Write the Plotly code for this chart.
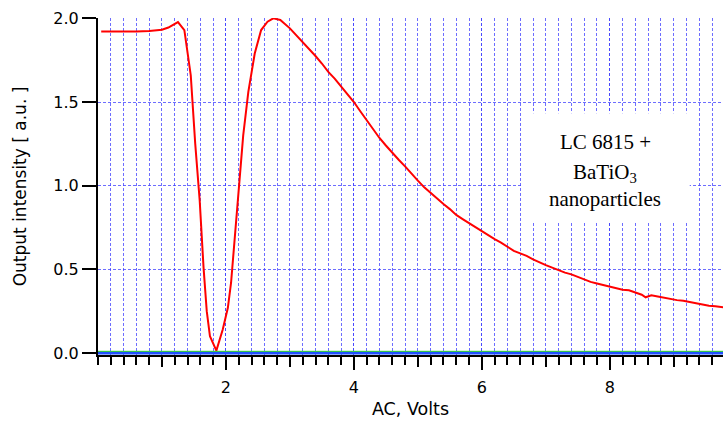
import plotly.graph_objects as go

# AC voltage sweep (V) and measured output intensity (a.u.)
volts = [0.05, 0.2, 0.4, 0.6, 0.8, 1.0, 1.1, 1.2, 1.25, 1.35, 1.45, 1.52, 1.59, 1.65,
         1.70, 1.75, 1.85, 1.95, 2.03, 2.08, 2.18, 2.27, 2.35, 2.45, 2.55, 2.65, 2.74,
         2.85, 3.0, 3.1, 3.2, 3.3, 3.4, 3.5, 3.6, 3.7, 3.8, 3.9, 4.0, 4.1, 4.2, 4.3,
         4.4, 4.5, 4.6, 4.7, 4.8, 4.9, 5.0, 5.1, 5.2, 5.3, 5.4, 5.5, 5.6, 5.7, 5.8,
         5.9, 6.0, 6.1, 6.2, 6.3, 6.4, 6.5, 6.6, 6.7, 6.8, 6.9, 7.0, 7.1, 7.2, 7.3,
         7.4, 7.5, 7.6, 7.7, 7.8, 7.9, 8.0, 8.1, 8.2, 8.3, 8.4, 8.5, 8.56, 8.65, 8.75,
         8.85, 8.95, 9.05, 9.15, 9.25, 9.35, 9.45, 9.55, 9.65, 9.77, 9.9]
intensity = [1.922, 1.921, 1.921, 1.922, 1.925, 1.932, 1.945, 1.965, 1.978, 1.93, 1.66,
             1.25, 0.91, 0.51, 0.25, 0.10, 0.014, 0.14, 0.27, 0.42, 0.91, 1.30, 1.56,
             1.79, 1.93, 1.98, 2.00, 1.99, 1.94, 1.90, 1.86, 1.82, 1.775, 1.73, 1.68,
             1.64, 1.595, 1.55, 1.50, 1.445, 1.39, 1.335, 1.285, 1.24, 1.195, 1.155,
             1.115, 1.07, 1.03, 0.99, 0.955, 0.92, 0.89, 0.86, 0.825, 0.80, 0.775,
             0.75, 0.73, 0.705, 0.68, 0.66, 0.635, 0.61, 0.595, 0.58, 0.56, 0.54,
             0.525, 0.51, 0.495, 0.48, 0.47, 0.455, 0.44, 0.425, 0.415, 0.405, 0.395,
             0.385, 0.378, 0.375, 0.36, 0.348, 0.333, 0.345, 0.338, 0.33, 0.322,
             0.316, 0.312, 0.305, 0.295, 0.288, 0.283, 0.28, 0.273, 0.265]

# reference baselines along the voltage axis
base_x = [0.0, 9.9]
base_blue = [0.0, 0.0]
base_green = [0.01, 0.01]

x_labels = [2, 4, 6, 8]
x_odd = [1, 3, 5, 7, 9]
y_ticks = [0.0, 0.5, 1.0, 1.5, 2.0]

label_lines = ["LC 6815 +", "BaTiO<sub>3</sub>", "nanoparticles"]
label_y = [1.258, 1.074, 0.922]

GRID = "rgba(60,60,255,0.75)"
FONT = "DejaVu Sans"

fig = go.Figure()
fig.add_trace(go.Scatter(x=base_x, y=base_blue, mode="lines",
                         line=dict(color="#1f4fff", width=3), hoverinfo="skip"))
fig.add_trace(go.Scatter(x=base_x, y=base_green, mode="lines", xaxis="x2",
                         line=dict(color="#22cc22", width=1), hoverinfo="skip"))
fig.add_trace(go.Scatter(x=volts, y=intensity, mode="lines",
                         line=dict(color="#ff0000", width=2)))

fig.update_layout(
    width=723, height=423,
    margin=dict(l=98, r=0, t=18, b=68),
    paper_bgcolor="white", plot_bgcolor="white",
    showlegend=False,
    font=dict(family=FONT, size=16, color="black"),
    xaxis=dict(
        range=[0, 9.77], tickmode="array", tickvals=x_labels,
        ticks="outside", ticklen=13, tickwidth=2, tickcolor="black",
        ticklabelstandoff=4,
        showline=True, linecolor="black", linewidth=2,
        showgrid=True, gridcolor=GRID, griddash="3px,2px", gridwidth=1,
        zeroline=False,
        title=dict(text="AC, Volts", standoff=7, font=dict(size=17.5)),
        minor=dict(tickmode="linear", tick0=0, dtick=0.2, ticks="outside",
                   ticklen=8, tickwidth=2, tickcolor="black",
                   showgrid=True, gridcolor=GRID, griddash="3px,2px", gridwidth=1),
    ),
    xaxis2=dict(
        range=[0, 9.77], overlaying="x", anchor="y", side="bottom",
        tickmode="array", tickvals=x_odd, ticks="outside", ticklen=11,
        tickwidth=2, tickcolor="black", showticklabels=False,
        showgrid=False, zeroline=False, showline=False,
    ),
    yaxis=dict(
        range=[-0.012, 2.002], tickmode="array", tickvals=y_ticks,
        tickformat=".1f", ticks="outside", ticklen=14, tickwidth=2,
        tickcolor="black",
        showline=True, linecolor="black", linewidth=2,
        showgrid=True, gridcolor=GRID, griddash="3px,2px", gridwidth=1,
        zeroline=False,
        title=dict(text="Output intensity [ a.u. ]", standoff=22, font=dict(size=17)),
    ),
    shapes=[dict(type="rect", xref="x", yref="y", x0=6.63, x1=9.25,
                 y0=0.78, y1=1.433, fillcolor="white", line=dict(width=0),
                 layer="above")],
)

for text, yv in zip(label_lines, label_y):
    fig.add_annotation(x=7.93, y=yv, xref="x", yref="y", text=text,
                       showarrow=False, xanchor="center", yanchor="middle",
                       font=dict(family="Liberation Serif", size=21, color="black"))

fig.write_html("out.html")
